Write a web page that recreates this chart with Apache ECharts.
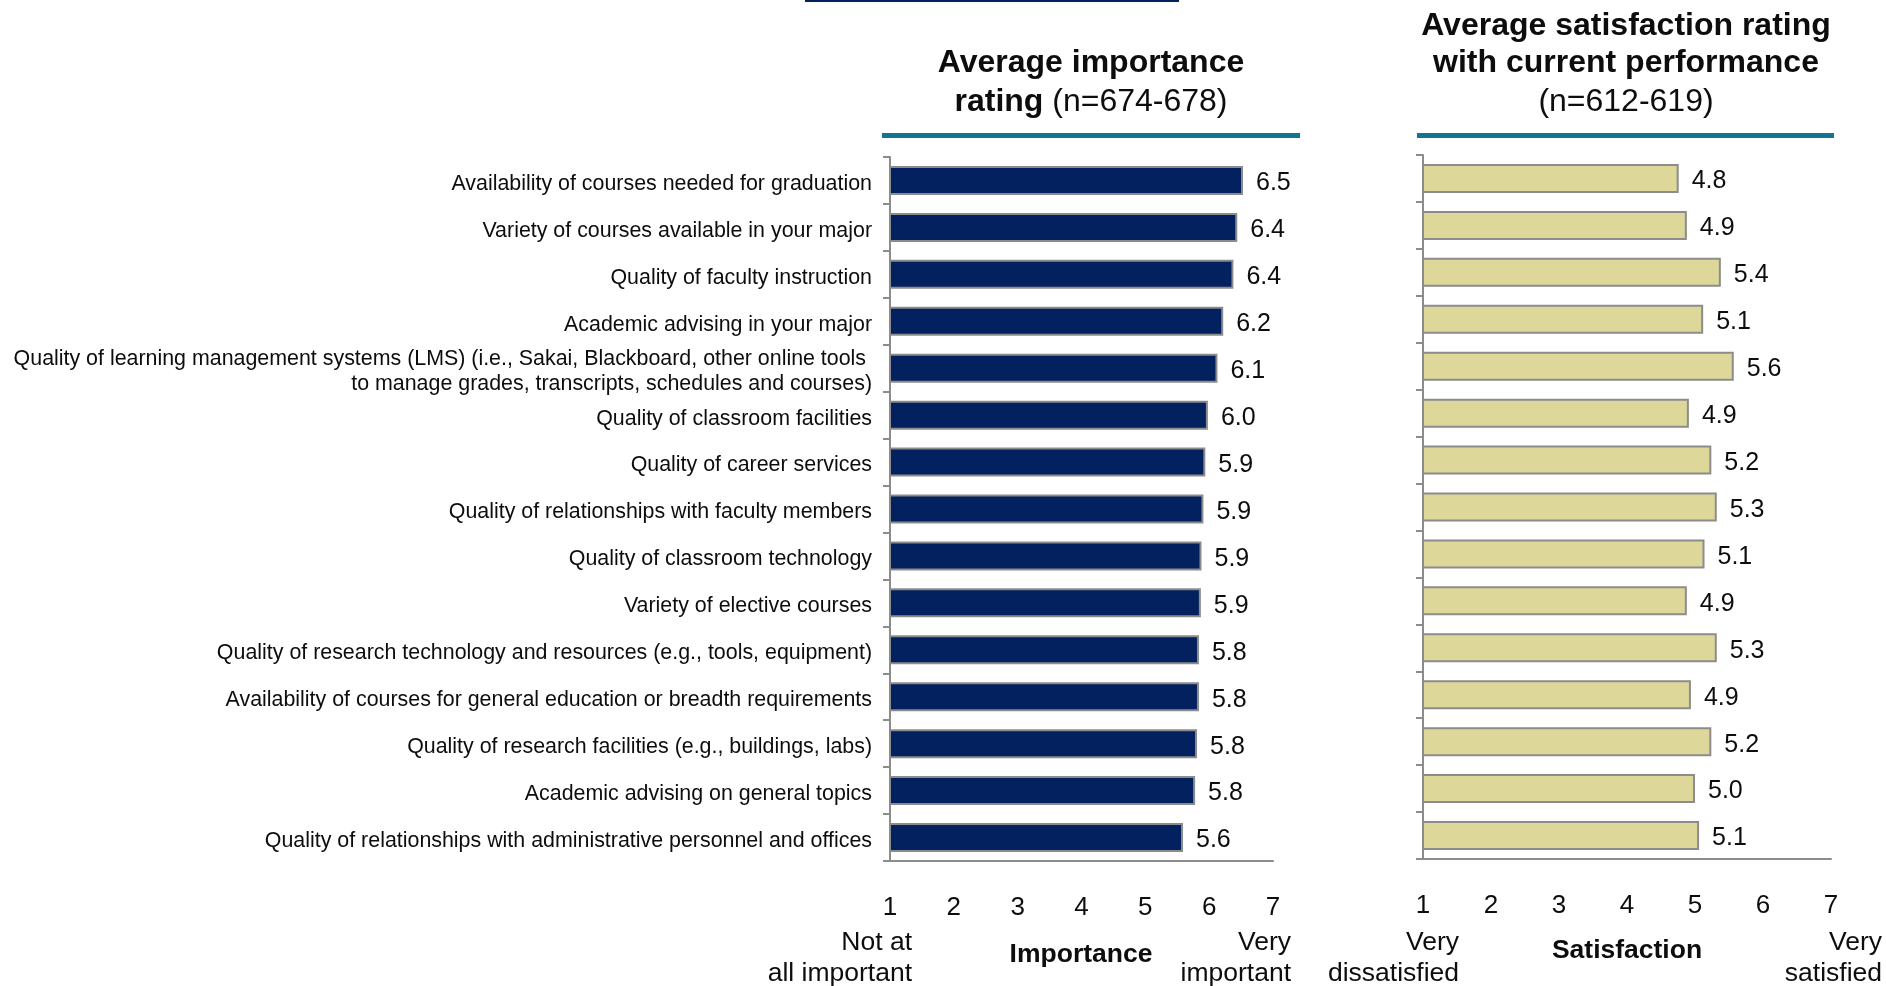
<!DOCTYPE html>
<html>
<head>
<meta charset="utf-8">
<script src="https://cdn.jsdelivr.net/npm/echarts@6/dist/echarts.min.js"></script>
<style>
html,body{margin:0;padding:0;background:#fff;}
#chart{width:1886px;height:986px;}
</style>
</head>
<body>
<div id="chart"></div>
<script>
var categories = [
  'Availability of courses needed for graduation',
  'Variety of courses available in your major',
  'Quality of faculty instruction',
  'Academic advising in your major',
  'Quality of learning management systems (LMS) (i.e., Sakai, Blackboard, other online tools \nto manage grades, transcripts, schedules and courses)',
  'Quality of classroom facilities',
  'Quality of career services',
  'Quality of relationships with faculty members',
  'Quality of classroom technology',
  'Variety of elective courses',
  'Quality of research technology and resources (e.g., tools, equipment)',
  'Availability of courses for general education or breadth requirements',
  'Quality of research facilities (e.g., buildings, labs)',
  'Academic advising on general topics',
  'Quality of relationships with administrative personnel and offices'
];
var importance = [6.53, 6.44, 6.38, 6.22, 6.13, 5.98, 5.94, 5.91, 5.88, 5.87, 5.84, 5.84, 5.81, 5.78, 5.59];
var satisfaction = [4.76, 4.88, 5.38, 5.12, 5.57, 4.91, 5.24, 5.32, 5.14, 4.88, 5.32, 4.94, 5.24, 5.00, 5.06];
var scaleTicks = [1, 2, 3, 4, 5, 6, 7];

var FONT = "'Liberation Sans', Arial, sans-serif";
var NAVY = '#03215E';
var KHAKI = '#DDD89A';
var TEAL = '#137591';
var GRAY = '#8c8c8c';
var TXT = '#0d0d0d';

var chart = echarts.init(document.getElementById('chart'));

function valueAxis(gridIndex) {
  return {
    type: 'value', gridIndex: gridIndex, min: scaleTicks[0], max: scaleTicks[scaleTicks.length - 1], interval: 1,
    axisLine: {show: true, onZero: false, lineStyle: {color: GRAY, width: 2}},
    axisTick: {show: false},
    splitLine: {show: false},
    axisLabel: {show: true, margin: 34, fontSize: 26, fontFamily: FONT, color: TXT,
      formatter: function (v) { return scaleTicks.indexOf(v) >= 0 ? String(v) : ''; }}
  };
}
function catAxis(gridIndex, showLabels) {
  return {
    type: 'category', gridIndex: gridIndex, inverse: true, data: categories,
    axisLine: {show: true, onZero: false, lineStyle: {color: GRAY, width: 2}},
    axisTick: {show: true, length: 7, lineStyle: {color: GRAY, width: 2}},
    splitLine: {show: false},
    axisLabel: {show: showLabels, margin: 18, fontSize: 21.4, lineHeight: 25, fontFamily: FONT, color: TXT,
      align: 'right',
      formatter: function (v) { return '{a|' + v + '}'; },
      rich: {a: {fontSize: 21.4, lineHeight: 25, fontFamily: FONT, color: TXT, padding: [7, 0, 0, 0]}}}
  };
}
function barSeries(idx, data, color) {
  return {
    type: 'bar', xAxisIndex: idx, yAxisIndex: idx, data: data, barWidth: 29,
    itemStyle: {color: color, borderColor: GRAY, borderWidth: 2},
    label: {show: true, position: 'right', distance: 13, offset: [0, 3], fontSize: 25, fontFamily: FONT, color: TXT,
      formatter: function (p) { return p.value.toFixed(1); }},
    emphasis: {disabled: true},
    animation: false
  };
}
function txt(x, y, text, opts) {
  opts = opts || {};
  return {
    type: 'text', x: x, y: y, silent: true,
    style: {
      text: text, fill: TXT, align: opts.align || 'center', verticalAlign: 'middle',
      font: (opts.bold ? 'bold ' : '') + (opts.size || 26.5) + 'px ' + FONT,
      lineHeight: opts.lineHeight || 31, rich: opts.rich
    }
  };
}

var titleRich = {
  b: {fontWeight: 'bold', fontSize: 32, fontFamily: FONT, color: TXT},
  n: {fontWeight: 'normal', fontSize: 32, fontFamily: FONT, color: TXT}
};

chart.setOption({
  animation: false,
  grid: [
    {left: 890, top: 157, width: 383, height: 704, containLabel: false},
    {left: 1423, top: 155, width: 408, height: 704, containLabel: false}
  ],
  xAxis: [valueAxis(0), valueAxis(1)],
  yAxis: [catAxis(0, true), catAxis(1, false)],
  series: [barSeries(0, importance, NAVY), barSeries(1, satisfaction, KHAKI)],
  graphic: [
    {type: 'rect', silent: true, shape: {x: 805, y: 0, width: 374, height: 2}, style: {fill: NAVY}},
    {type: 'rect', silent: true, shape: {x: 882, y: 133, width: 418, height: 5}, style: {fill: TEAL}},
    {type: 'rect', silent: true, shape: {x: 1417, y: 133, width: 417, height: 5}, style: {fill: TEAL}},
    txt(1091, 63.5, 'Average importance', {bold: true, size: 32}),
    txt(1091, 102.5, '{b|rating} {n|(n=674-678)}', {size: 32, rich: titleRich}),
    txt(1626, 26, 'Average satisfaction rating', {bold: true, size: 32}),
    txt(1626, 63.5, 'with current performance', {bold: true, size: 32}),
    txt(1626, 102.5, '(n=612-619)', {size: 32}),
    txt(912, 958.5, 'Not at\nall important', {align: 'right'}),
    txt(1081, 954.5, 'Importance', {bold: true}),
    txt(1291, 958.5, 'Very\nimportant', {align: 'right'}),
    txt(1459, 958.5, 'Very\ndissatisfied', {align: 'right'}),
    txt(1627, 950.5, 'Satisfaction', {bold: true}),
    txt(1882, 958.5, 'Very\nsatisfied', {align: 'right'})
  ]
});
</script>
</body>
</html>
